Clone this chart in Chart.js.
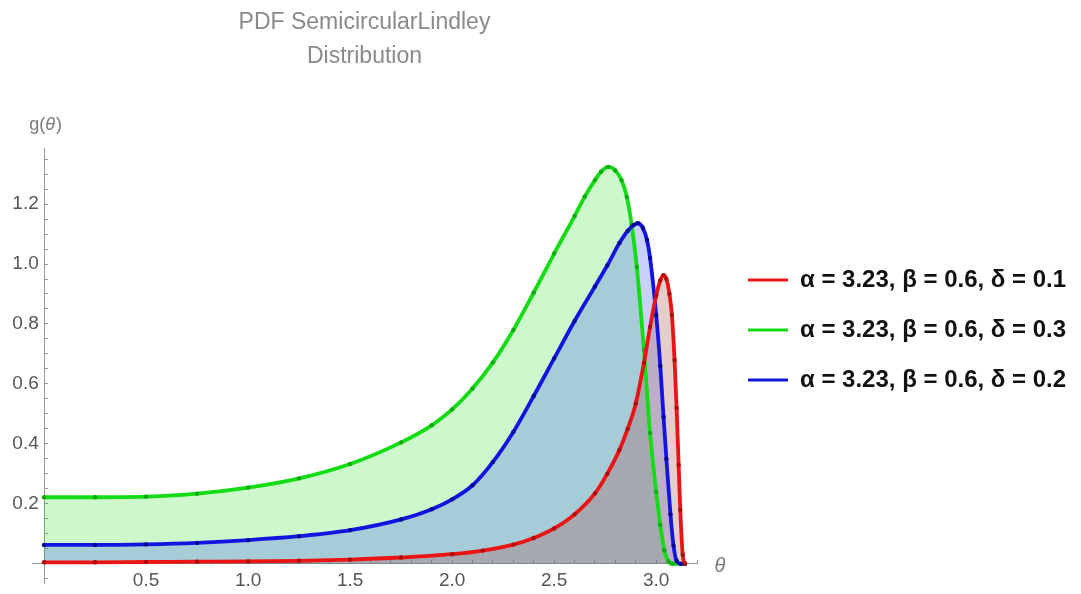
<!DOCTYPE html>
<html>
<head>
<meta charset="utf-8">
<script src="https://cdn.jsdelivr.net/npm/chart.js@4.4.1/dist/chart.umd.min.js"></script>
<style>
html,body{margin:0;padding:0;background:#ffffff;}
#wrap{width:1081px;height:594px;position:relative;}
</style>
</head>
<body>
<div id="wrap"><canvas id="c"></canvas></div>
<script>
// ---------- data ----------
const titleLines = ['PDF SemicircularLindley', 'Distribution'];
const seriesLabels = [
  'α = 3.23, β = 0.6, δ = 0.1',
  'α = 3.23, β = 0.6, δ = 0.3',
  'α = 3.23, β = 0.6, δ = 0.2'
];
const xTickLabels = ['0.5', '1.0', '1.5', '2.0', '2.5', '3.0'];
const yTickLabels = ['0.2', '0.4', '0.6', '0.8', '1.0', '1.2'];
const yAxisLabel = ['g(', 'θ', ')'];
const xAxisLabel = 'θ';

// delta = 0.1 (red)
const thetaRed = [0, 0.25, 0.5, 0.75, 1.0, 1.25, 1.5, 1.75, 2.0, 2.15, 2.3, 2.4, 2.5, 2.6, 2.7, 2.76, 2.82, 2.86, 2.9, 2.94, 2.97, 3.0, 3.02, 3.036, 3.05, 3.065, 3.077, 3.09, 3.1, 3.11, 3.118, 3.13, 3.1416];
const gRed     = [0.005, 0.005, 0.006, 0.007, 0.008, 0.010, 0.014, 0.021, 0.032, 0.044, 0.064, 0.086, 0.118, 0.165, 0.235, 0.300, 0.380, 0.450, 0.535, 0.670, 0.790, 0.895, 0.945, 0.963, 0.950, 0.900, 0.830, 0.680, 0.520, 0.330, 0.180, 0.030, 0];

// delta = 0.3 (green)
const thetaGreen = [0, 0.25, 0.5, 0.75, 1.0, 1.25, 1.5, 1.75, 1.9, 2.0, 2.1, 2.2, 2.3, 2.4, 2.5, 2.6, 2.65, 2.7, 2.73, 2.765, 2.8, 2.83, 2.856, 2.88, 2.905, 2.94, 2.97, 3.0, 3.02, 3.04, 3.06, 3.08, 3.1416];
const gGreen     = [0.222, 0.222, 0.224, 0.234, 0.254, 0.285, 0.333, 0.405, 0.462, 0.515, 0.585, 0.672, 0.780, 0.905, 1.035, 1.160, 1.225, 1.280, 1.308, 1.324, 1.312, 1.280, 1.224, 1.130, 0.990, 0.713, 0.436, 0.240, 0.130, 0.045, 0.008, 0, 0];

// delta = 0.2 (blue)
const thetaBlue = [0, 0.25, 0.5, 0.75, 1.0, 1.25, 1.5, 1.75, 1.9, 2.0, 2.1, 2.2, 2.3, 2.4, 2.5, 2.6, 2.7, 2.76, 2.82, 2.86, 2.89, 2.91, 2.935, 2.955, 2.97, 3.0, 3.02, 3.036, 3.05, 3.07, 3.085, 3.1, 3.12, 3.1416];
const gBlue     = [0.063, 0.063, 0.065, 0.070, 0.079, 0.092, 0.112, 0.148, 0.182, 0.215, 0.262, 0.340, 0.440, 0.560, 0.685, 0.810, 0.925, 0.995, 1.070, 1.110, 1.130, 1.136, 1.120, 1.080, 1.020, 0.830, 0.660, 0.490, 0.350, 0.165, 0.060, 0.010, 0, 0];

const lineColors  = ['rgb(235,20,20)', 'rgb(20,220,20)', 'rgb(20,20,225)'];
const pointColors = ['rgb(175,10,10)', 'rgb(10,170,10)', 'rgb(5,5,150)'];
const fillColors  = ['rgba(165,88,82,0.30)', 'rgba(0,220,0,0.20)', 'rgba(74,102,240,0.30)'];

// ---------- layout helpers ----------
const FAMILY = '"Liberation Sans", Arial, Helvetica, sans-serif';
const LEGEND_FONT = 24;
const LEGEND_PAD = 26;
const LEGEND_BOX = 40;
const GAP = 25;

function toPoints(xs, ys) { return xs.map((x, i) => ({x: x, y: ys[i]})); }

const mctx = document.createElement('canvas').getContext('2d');
mctx.font = 'bold ' + LEGEND_FONT + 'px ' + FAMILY;
const textW = Math.max(...seriesLabels.map(s => mctx.measureText(s).width));
const legendW = LEGEND_PAD + LEGEND_BOX + LEGEND_FONT / 2 + textW + 10;
const padRight = Math.max(0, 1081 - (697 + GAP) - legendW);

const axisLabelPlugin = {
  id: 'axisLabels',
  afterDraw(chart) {
    const {ctx, chartArea} = chart;
    const sx = chart.scales.x, sy = chart.scales.y;
    ctx.save();
    ctx.fillStyle = '#7a7a7a';
    ctx.textBaseline = 'middle';
    ctx.textAlign = 'left';
    const fN = '18px ' + FAMILY, fI = 'italic 18px ' + FAMILY;
    ctx.font = fN; const w1 = ctx.measureText(yAxisLabel[0]).width;
    ctx.font = fI; const w2 = ctx.measureText(yAxisLabel[1]).width;
    ctx.font = fN; const w3 = ctx.measureText(yAxisLabel[2]).width;
    let gx = sx.getPixelForValue(0) - (w1 + w2 + w3) / 2 + 1;
    const gy = chartArea.top - 23;
    ctx.font = fN; ctx.fillText(yAxisLabel[0], gx, gy); gx += w1;
    ctx.font = fI; ctx.fillText(yAxisLabel[1], gx, gy); gx += w2 + 1;
    ctx.font = fN; ctx.fillText(yAxisLabel[2], gx, gy);
    ctx.font = 'italic 20px ' + FAMILY;
    ctx.textAlign = 'center';
    ctx.fillText(xAxisLabel, chartArea.right + 23, sy.getPixelForValue(0) + 3);
    ctx.restore();
  }
};

function mkDataset(i, xs, ys, order) {
  return {
    label: seriesLabels[i],
    data: toPoints(xs, ys),
    borderColor: lineColors[i],
    backgroundColor: fillColors[i],
    borderWidth: 3.8,
    fill: 'origin',
    order: order,
    cubicInterpolationMode: 'monotone',
    pointRadius: 2.2,
    pointBorderWidth: 0,
    pointBackgroundColor: pointColors[i],
    pointHoverRadius: 2.2
  };
}

function noVerticalPadding(s) { s.paddingTop = 0; s.paddingBottom = 0; }

const chart = new Chart(document.getElementById('c'), {
  type: 'line',
  data: {
    datasets: [
      mkDataset(0, thetaRed, gRed, 1),
      mkDataset(1, thetaGreen, gGreen, 3),
      mkDataset(2, thetaBlue, gBlue, 2)
    ]
  },
  plugins: [axisLabelPlugin],
  options: {
    responsive: true,
    maintainAspectRatio: false,
    animation: false,
    devicePixelRatio: 1,
    layout: { padding: { left: 32, right: padRight, top: 0, bottom: 11 } },
    plugins: {
      filler: { drawTime: 'beforeDatasetsDraw' },
      tooltip: { enabled: false },
      title: {
        display: true,
        fullSize: false,
        text: titleLines,
        color: '#8a8a8a',
        font: { family: FAMILY, size: 23, weight: 'normal', lineHeight: 34 / 23 },
        padding: { top: 6, bottom: 74 }
      },
      legend: {
        display: true,
        position: 'right',
        fullSize: false,
        align: 'start',
        maxWidth: 420,
        title: { display: true, text: ' ', font: { size: 12, lineHeight: 1 }, padding: { top: 82, bottom: 0 } },
        labels: {
          boxWidth: LEGEND_BOX,
          boxHeight: 3,
          padding: LEGEND_PAD,
          color: '#111111',
          font: { family: FAMILY, size: LEGEND_FONT, weight: 'bold' },
          sort: (a, b) => a.datasetIndex - b.datasetIndex,
          generateLabels: (ch) => {
            const items = Chart.defaults.plugins.legend.labels.generateLabels(ch);
            items.forEach(it => {
              const c = lineColors[it.datasetIndex];
              it.fillStyle = c; it.strokeStyle = c; it.lineWidth = 0;
            });
            return items;
          }
        }
      }
    },
    scales: {
      x: {
        type: 'linear',
        min: -0.059,
        max: 3.2,
        position: { y: 0 },
        afterFit: noVerticalPadding,
        border: { display: true, color: '#9a9a9a', width: 1 },
        grid: { drawOnChartArea: false, drawTicks: true, tickLength: -4, color: '#9a9a9a' },
        ticks: {
          stepSize: 0.1,
          autoSkip: false,
          maxRotation: 0,
          includeBounds: false,
          padding: 10,
          color: '#555555',
          font: { family: FAMILY, size: 19 },
          callback: (v) => {
            const s = (Math.round(v * 10) / 10).toFixed(1);
            return xTickLabels.includes(s) ? s : '';
          }
        }
      },
      y: {
        type: 'linear',
        min: -0.064,
        max: 1.387,
        position: { x: 0 },
        afterFit: noVerticalPadding,
        border: { display: true, color: '#9a9a9a', width: 1 },
        grid: { drawOnChartArea: false, drawTicks: true, tickLength: -4, color: '#9a9a9a' },
        ticks: {
          stepSize: 0.05,
          autoSkip: false,
          includeBounds: false,
          padding: 11,
          color: '#555555',
          font: { family: FAMILY, size: 19 },
          callback: (v) => {
            const r = Math.round(v * 100);
            const s = (r / 100).toFixed(1);
            return (r % 20 === 0 && yTickLabels.includes(s)) ? s + ' ' : '';
          }
        }
      },
      gap: {
        type: 'linear',
        position: 'right',
        display: true,
        grid: { display: false },
        border: { display: false },
        ticks: { display: false },
        afterFit: (s) => { s.width = GAP; }
      }
    }
  }
});
</script>
</body>
</html>
